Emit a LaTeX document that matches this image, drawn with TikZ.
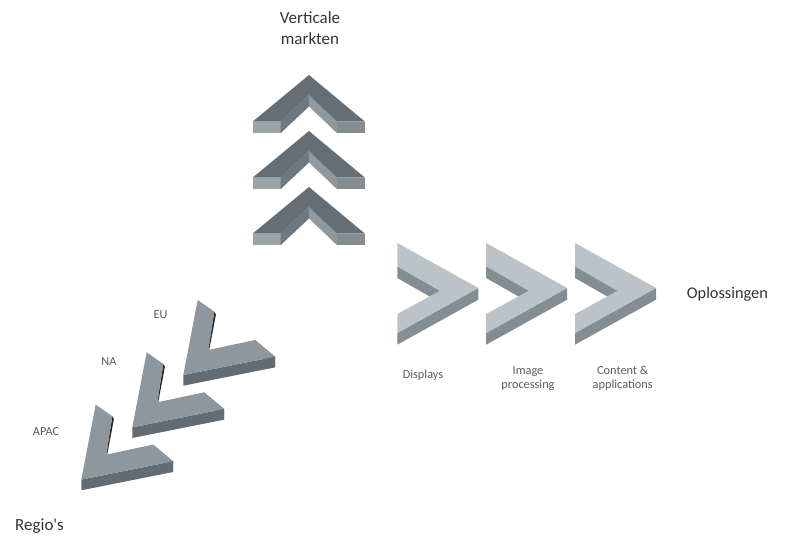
\documentclass[tikz,border=0pt]{standalone}
\usepackage{fontspec}
\setmainfont{Carlito}[Ligatures=TeXOff]
\definecolor{upTop}{HTML}{646E74}
\definecolor{upInnerL}{HTML}{6E787E}
\definecolor{upInnerR}{HTML}{8F999F}
\definecolor{upFrontL}{HTML}{9AA3A8}
\definecolor{upFrontR}{HTML}{838D92}
\definecolor{rightTop}{HTML}{BCC3C8}
\definecolor{rightSide}{HTML}{838D92}
\definecolor{regTop}{HTML}{8D979D}
\definecolor{regSide}{HTML}{636C72}
\definecolor{titleGray}{HTML}{333333}
\definecolor{labelGray}{HTML}{5A5A5A}
\begin{document}
\begin{tikzpicture}[x=1pt, y=-1pt,
title/.style={text=titleGray, inner sep=0, align=center,
  font=\fontsize{17}{21.7}\selectfont},
label/.style={text=labelGray, inner sep=0, align=center,
  font=\fontsize{12.3}{13.7}\selectfont}]

\useasboundingbox (0,0) rectangle (786,535);

%%%%%%%% VERTICALE MARKTEN %%%%%%%%%%%%%
\foreach \i in {0,1,2}{
\begin{scope}[shift={(309,75+56*\i)}]
  \fill[upFrontL] (-56.5,46.7) rectangle (-28.5,58.2);
  \fill[upInnerL] (-28.5,46.7)--(0,20)--(0,31.5)--(-28.5,58.2)--cycle;
  \fill[upInnerR] (0,20)--(28,46.7)--(28,58.2)--(0,31.5)--cycle;
  \fill[upFrontR] (28,46.7) rectangle (56,58.2);
  \fill[upTop] (0,0)--(-56.5,46.7)--(-28.5,46.7)--(0,20)--(28,46.7)--(56,46.7)--cycle;
\end{scope}
}

%%%%%%%% OPLOSSINGEN %%%%%%%%%%%%%
\foreach \i in {0,1,2}{
\begin{scope}[shift={(397.3+88.85*\i,243)}]
  \fill[rightSide] (0,23.3)--(42.7,47.7)--(42.7,59.4)--(0,35)--cycle;
  \fill[rightSide] (81,45)--(0,90)--(0,101.7)--(81,56.7)--cycle;
  \fill[rightTop] (0,0)--(81,45)--(0,90)--(0,71)--(42.7,47.7)--(0,23.3)--cycle;
\end{scope}
}

%%%%%%%% REGIO'S %%%%%%%%%%%%%
\foreach \i in {0,1,2}{
\begin{scope}[shift={(197.7-51*\i,300+52.3*\i)}]
  \fill[regSide] (77.3,56.7)--(-14.4,75)--(-14.4,85.7)--(77.3,67.4)--cycle;
  \fill[regSide] (57.3,40)--(77.3,56.7)--(77.3,67.4)--(57.3,50.7)--cycle;
  \fill[black!85] (16.6,11.7)--(18.2,14.5)--(11.6,49.5)--(10.6,50)--cycle;
  \fill[regTop] (0,0)--(16.6,11.7)--(10.6,50)--(57.3,40)--(77.3,56.7)--(-14.4,75)--cycle;
\end{scope}
}

%%%%%%%% LABELS %%%%%%%%%%%%%
% base = baseline of the last line
\node[title, anchor=base] (verticale) at (310,45) {Verticale\\markten};
\node[title, anchor=base west, font=\fontsize{16.3}{20}\selectfont] (oplossingen) at (686.7,298.3) {Oplossingen};
\node[title, anchor=base west] (regios) at (15,530) {Regio's};

\node[label, anchor=base] (eu) at (160.5,318.3) {EU};
\node[label, anchor=base] (na) at (109,365) {NA};
\node[label, anchor=base] (apac) at (46,435) {APAC};

\node[label, anchor=base] (displays) at (423,378.5) {Displays};
\node[label, anchor=base] (image) at (528,388) {Image\\processing};
\node[label, anchor=base] (content) at (622.7,388) {Content \&\\applications};
\end{tikzpicture}
\end{document}
